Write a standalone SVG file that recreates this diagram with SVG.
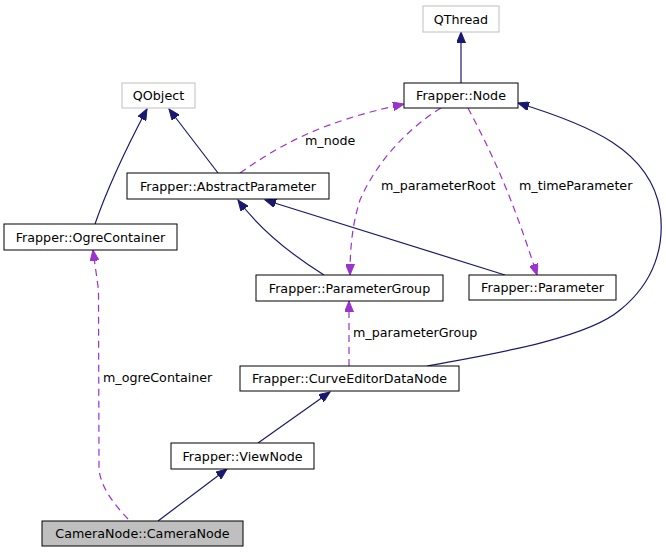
<svg xmlns="http://www.w3.org/2000/svg" width="666" height="552" viewBox="0 0 666 552">
<style>
  .n rect { fill: #ffffff; stroke: #000000; stroke-width: 1; }
  .g rect { fill: #ffffff; stroke: #bfbfbf; stroke-width: 1; }
  .cur rect { fill: #bfbfbf; stroke: #000000; stroke-width: 1; }
  text { font-family: "DejaVu Sans", "Liberation Sans", sans-serif; font-size: 12.7px; fill: #000000; }
  .node text { text-anchor: middle; }
  .inh { fill: none; stroke: #191970; stroke-width: 1.2; marker-end: url(#ah); }
  .col { fill: none; stroke: #9a32cd; stroke-width: 1.2; stroke-dasharray: 7,5; marker-end: url(#ap); }
</style>
<defs>
  <marker id="ah" markerUnits="userSpaceOnUse" markerWidth="12" markerHeight="9" refX="11" refY="4.5" orient="auto" viewBox="0 0 12 9">
    <path d="M0,0 L11,4.5 L0,9 z" fill="#191970" stroke="#191970"/>
  </marker>
  <marker id="ap" markerUnits="userSpaceOnUse" markerWidth="12" markerHeight="9" refX="11" refY="4.5" orient="auto" viewBox="0 0 12 9">
    <path d="M0,0 L11,4.5 L0,9 z" fill="#9a32cd" stroke="#9a32cd"/>
  </marker>
</defs>
<rect width="666" height="552" fill="#ffffff"/>
<g id="connectors">
  <path class="inh" d="M461,83 L461,32"/>
  <path class="inh" d="M218,173 L169,109"/>
  <path class="inh" d="M95,224 C105,195 120,160 147,109"/>
  <path class="inh" d="M324,275 Q268,240 238,200"/>
  <path class="inh" d="M505,275 L265,200"/>
  <path class="inh" d="M427,366 C480,356 585,340 620,310 C655,282 665,245 660,210 C650,150 590,125 518,103"/>
  <path class="inh" d="M258,443 L330,392"/>
  <path class="inh" d="M158,521 L227,469"/>
  <path class="col" d="M240,173 C280,145 320,122 404,104"/>
  <path class="col" d="M441,108 C405,130 375,165 360,200 C352,225 350,250 350,275"/>
  <path class="col" d="M468,108 C490,150 510,190 537,275"/>
  <path class="col" d="M349,366 L349,301"/>
  <path class="col" d="M128,519 C115,505 102,490 99,470 L98.5,290 L93,250"/>
  <text x="305" y="145">m_node</text>
  <text x="381" y="190">m_parameterRoot</text>
  <text x="519" y="190">m_timeParameter</text>
  <text x="353" y="337">m_parameterGroup</text>
  <text x="103" y="382">m_ogreContainer</text>
</g>
<g id="QThread" class="g node"><rect x="423" y="6" width="76" height="26"/><text x="461" y="23.5">QThread</text></g>
<g id="Node" class="n node"><rect x="404" y="83" width="114" height="25"/><text x="461" y="100">Frapper::Node</text></g>
<g id="QObject" class="g node"><rect x="122" y="83" width="73" height="25"/><text x="158.5" y="100">QObject</text></g>
<g id="AbstractParameter" class="n node"><rect x="127" y="173" width="202" height="26"/><text x="228" y="190.5">Frapper::AbstractParameter</text></g>
<g id="OgreContainer" class="n node"><rect x="4" y="224" width="173" height="26"/><text x="90.5" y="241.5">Frapper::OgreContainer</text></g>
<g id="ParameterGroup" class="n node"><rect x="256" y="275" width="187" height="26"/><text x="349.5" y="292.5">Frapper::ParameterGroup</text></g>
<g id="Parameter" class="n node"><rect x="469" y="275" width="147" height="25"/><text x="542.5" y="292">Frapper::Parameter</text></g>
<g id="CurveEditorDataNode" class="n node"><rect x="240" y="366" width="219" height="25"/><text x="349.5" y="383">Frapper::CurveEditorDataNode</text></g>
<g id="ViewNode" class="n node"><rect x="171" y="443" width="143" height="26"/><text x="242.5" y="460.5">Frapper::ViewNode</text></g>
<g id="CameraNode" class="cur node"><rect x="42" y="521" width="201" height="25"/><text x="142.5" y="538">CameraNode::CameraNode</text></g>
</svg>
